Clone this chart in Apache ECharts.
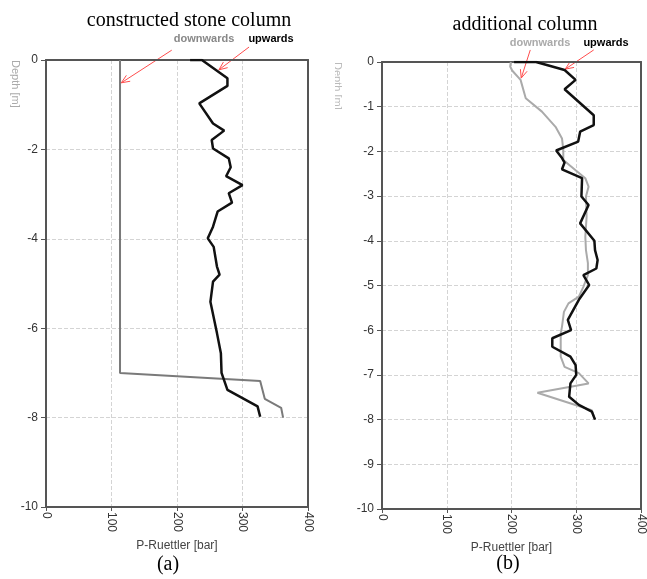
<!DOCTYPE html>
<html>
<head>
<meta charset="utf-8">
<script src="https://cdn.jsdelivr.net/npm/echarts@6/dist/echarts.min.js"></script>
<style>html,body{margin:0;padding:0;background:#fff}#chartBox{width:647px;height:579px}</style>
</head>
<body>
<div id="chartBox"></div>
<script>
// (a) constructed stone column
var leftDownVal   = [113, 113, 327, 334, 359, 362];
var leftDownDepth = [0, -7.0, -7.18, -7.58, -7.78, -8.0];
var leftUpVal   = [220, 238, 277, 277, 234, 255, 272, 253, 255, 279, 282, 275, 300, 279, 284, 262, 255, 247, 256, 261, 265, 255, 251, 261, 267, 268, 277, 323, 327];
var leftUpDepth = [0, 0, -0.41, -0.58, -0.97, -1.42, -1.58, -1.79, -1.98, -2.2, -2.4, -2.6, -2.8, -2.98, -3.19, -3.39, -3.73, -3.99, -4.18, -4.62, -4.8, -4.96, -5.41, -6.11, -6.56, -7.0, -7.38, -7.75, -7.98];

// (b) additional column
var rightUpVal   = [204, 238, 282, 299, 282, 327, 327, 306, 303, 269, 278, 282, 278, 309, 308, 319, 306, 328, 329, 333, 331, 311, 320, 304, 287, 292, 263, 263, 291, 299, 300, 291, 289, 304, 324, 329];
var rightUpDepth = [0, 0, -0.18, -0.4, -0.61, -1.19, -1.41, -1.56, -1.78, -1.98, -2.15, -2.25, -2.4, -2.6, -3.01, -3.2, -3.61, -4.0, -4.21, -4.43, -4.62, -4.77, -4.99, -5.32, -5.77, -6.0, -6.18, -6.37, -6.59, -6.78, -7.0, -7.19, -7.49, -7.67, -7.82, -8.0];
var rightDownVal   = [199, 198, 201, 214, 222, 247, 268, 278, 280, 280, 299, 314, 319, 315, 316, 314, 315, 318, 318, 311, 304, 288, 281, 278, 276, 276, 282, 304, 319, 240, 324, 329];
var rightDownDepth = [0, -0.1, -0.19, -0.4, -0.81, -1.11, -1.45, -1.71, -1.97, -2.19, -2.42, -2.6, -2.79, -3.01, -3.46, -3.91, -4.21, -4.5, -4.77, -5.03, -5.25, -5.4, -5.59, -5.92, -6.07, -6.59, -6.82, -6.96, -7.19, -7.4, -7.79, -8.0];

// arrows: [gridIndex, fromX, fromDepth, toX, toDepth]
var arrows = [
    [0, 192, 0.22, 115, -0.51],
    [0, 310, 0.29, 264, -0.22],
    [1, 229, 0.27, 215, -0.36],
    [1, 327, 0.27, 283, -0.16]
];

function pairs(v, d) {
    return v.map(function (x, i) { return [x, d[i]]; });
}

var sans = 'Liberation Sans';
var serif = 'Liberation Serif';
var frame = {onZero: false, lineStyle: {color: '#555', width: 2}};

function makeX(idx) {
    return {
        gridIndex: idx, type: 'value', min: 0, max: 400, interval: 100,
        name: 'P-Ruettler [bar]', nameLocation: 'middle', nameGap: 33,
        nameTextStyle: {fontFamily: sans, fontSize: 12, color: '#444'},
        axisLine: frame,
        axisTick: {show: true, length: 4, lineStyle: {color: '#555'}},
        axisLabel: {rotate: -90, margin: 5, fontFamily: sans, fontSize: 12, color: '#333'},
        splitLine: {show: true, lineStyle: {color: '#d4d4d4', type: 'dashed'}}
    };
}
function makeY(idx, step) {
    return {
        gridIndex: idx, type: 'value', min: -10, max: 0, interval: step,
        axisLine: frame,
        axisTick: {show: true, length: 5, lineStyle: {color: '#555'}},
        axisLabel: {margin: 8, fontFamily: sans, fontSize: 12, color: '#333'},
        splitLine: {show: true, lineStyle: {color: '#d4d4d4', type: 'dashed'}}
    };
}
// plain axis lines for top and right edges of each frame
function edgeX(idx) {
    return {gridIndex: idx, type: 'value', position: 'top', min: 0, max: 400,
        axisLine: frame, axisTick: {show: false}, axisLabel: {show: false}, splitLine: {show: false}};
}
function edgeY(idx) {
    return {gridIndex: idx, type: 'value', position: 'right', min: -10, max: 0,
        axisLine: frame, axisTick: {show: false}, axisLabel: {show: false}, splitLine: {show: false}};
}

var dom = document.getElementById('chartBox');
var myChart = echarts.init(dom);

var titleFont = {fontFamily: serif, fontSize: 20, fontWeight: 'normal', color: '#000'};

var option = {
    animation: false,
    title: [
        {text: 'constructed stone column', left: 184, top: 6, textAlign: 'center', textStyle: titleFont},
        {text: 'additional column', left: 520, top: 10, textAlign: 'center', textStyle: titleFont},
        {text: '(a)', left: 163, top: 550, textAlign: 'center', textStyle: titleFont},
        {text: '(b)', left: 503, top: 549, textAlign: 'center', textStyle: titleFont}
    ],
    grid: [
        {left: 46, right: 339, top: 60, bottom: 72},
        {left: 382, right: 4, top: 62, bottom: 70}
    ],
    xAxis: [makeX(0), makeX(1), edgeX(0), edgeX(1)],
    yAxis: [makeY(0, 2), makeY(1, 1), edgeY(0), edgeY(1)],
    series: [
        {name: 'downwards', type: 'line', xAxisIndex: 0, yAxisIndex: 0, showSymbol: false,
         data: pairs(leftDownVal, leftDownDepth), lineStyle: {color: '#7a7a7a', width: 2}},
        {name: 'upwards', type: 'line', xAxisIndex: 0, yAxisIndex: 0, showSymbol: false,
         data: pairs(leftUpVal, leftUpDepth), lineStyle: {color: '#111', width: 2.5}},
        {name: 'downwards', type: 'line', xAxisIndex: 1, yAxisIndex: 1, showSymbol: false,
         data: pairs(rightDownVal, rightDownDepth), lineStyle: {color: '#aaa', width: 2}},
        {name: 'upwards', type: 'line', xAxisIndex: 1, yAxisIndex: 1, showSymbol: false,
         data: pairs(rightUpVal, rightUpDepth), lineStyle: {color: '#111', width: 2.5}}
    ]
};
myChart.setOption(option);

// labels and red arrows
var gfx = [
    {type: 'text', x: 204, y: 39, style: {text: 'downwards', fill: '#888', font: 'bold 11px ' + sans, align: 'center', verticalAlign: 'middle'}},
    {type: 'text', x: 271, y: 39, style: {text: 'upwards', fill: '#000', font: 'bold 11px ' + sans, align: 'center', verticalAlign: 'middle'}},
    {type: 'text', x: 540, y: 43, style: {text: 'downwards', fill: '#aaa', font: 'bold 11px ' + sans, align: 'center', verticalAlign: 'middle'}},
    {type: 'text', x: 606, y: 43, style: {text: 'upwards', fill: '#000', font: 'bold 11px ' + sans, align: 'center', verticalAlign: 'middle'}},
    {type: 'text', x: 15, y: 60, rotation: -Math.PI / 2, style: {text: 'Depth [m]', fill: '#aaa', font: '11px ' + sans, align: 'left', verticalAlign: 'middle'}},
    {type: 'text', x: 337, y: 62, rotation: -Math.PI / 2, style: {text: 'Depth [m]', fill: '#bbb', font: '11px ' + sans, align: 'left', verticalAlign: 'middle'}},
    {type: 'rect', shape: {x: 326, y: 55, width: 9, height: 70}, style: {fill: '#fff'}}
];
arrows.forEach(function (a) {
    var p0 = myChart.convertToPixel({gridIndex: a[0]}, [a[1], a[2]]);
    var p1 = myChart.convertToPixel({gridIndex: a[0]}, [a[3], a[4]]);
    var ang = Math.atan2(p1[1] - p0[1], p1[0] - p0[0]);
    var len = 9, spread = 0.4;
    var h1 = [p1[0] - len * Math.cos(ang - spread), p1[1] - len * Math.sin(ang - spread)];
    var h2 = [p1[0] - len * Math.cos(ang + spread), p1[1] - len * Math.sin(ang + spread)];
    gfx.push({type: 'line', shape: {x1: p0[0], y1: p0[1], x2: p1[0], y2: p1[1]}, style: {stroke: '#ff4d4d', lineWidth: 1}});
    gfx.push({type: 'polyline', shape: {points: [h1, p1, h2]}, style: {stroke: '#ff4d4d', lineWidth: 1, fill: null}});
});
myChart.setOption({graphic: gfx});
</script>
</body>
</html>
